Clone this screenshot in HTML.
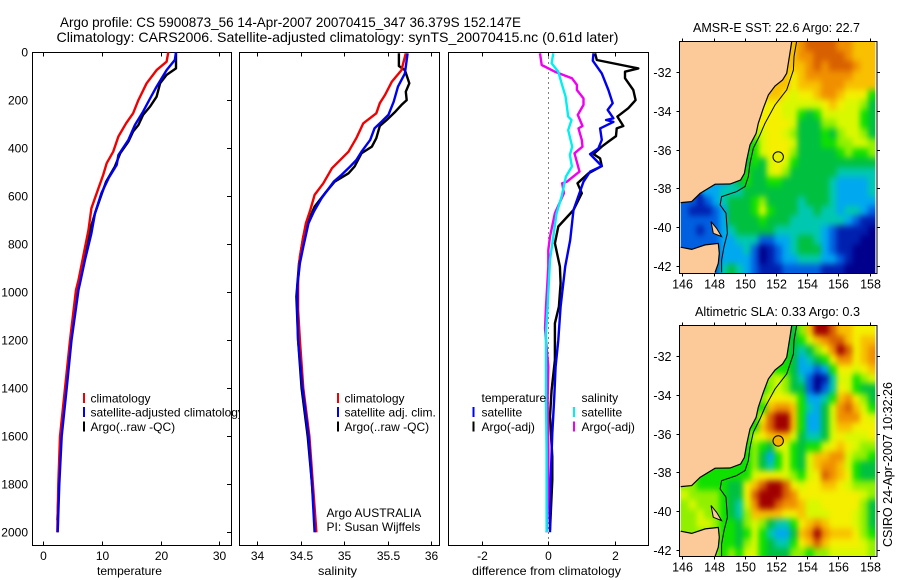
<!DOCTYPE html>
<html lang="en">
<head>
<meta charset="utf-8">
<title>Argo profile CS 5900873_56</title>
<style>
html,body{margin:0;padding:0;background:#fff;}
body{width:900px;height:580px;overflow:hidden;}
svg{display:block;}
text{font-family:"Liberation Sans",sans-serif;font-size:12px;fill:#000;}
</style>
</head>
<body>
<svg id="fig" width="900" height="580" viewBox="0 0 900 580" xmlns="http://www.w3.org/2000/svg">
  <defs>
    <filter id="fieldSmooth" filterUnits="userSpaceOnUse" x="670" y="30" width="220" height="540" color-interpolation-filters="sRGB">
      <feGaussianBlur stdDeviation="2.6 3.2"/>
      <feComponentTransfer><feFuncA type="linear" slope="20"/></feComponentTransfer>
    </filter>
    <clipPath id="clipSst"><rect x="680.7" y="41.5" width="194.6" height="231.5"/></clipPath>
    <clipPath id="clipSla"><rect x="680.7" y="325.5" width="194.6" height="231"/></clipPath>
  </defs>
  <rect x="0" y="0" width="900" height="580" fill="#fff"/>
  <text x="60" y="27" style="font-size:14px" textLength="461" lengthAdjust="spacingAndGlyphs">Argo profile: CS 5900873_56 14-Apr-2007 20070415_347 36.379S 152.147E</text>
  <text x="56.5" y="42" style="font-size:14px" textLength="562" lengthAdjust="spacingAndGlyphs">Climatology: CARS2006. Satellite-adjusted climatology: synTS_20070415.nc (0.61d later)</text>
  <text x="693" y="32" style="font-size:13px" textLength="167" lengthAdjust="spacingAndGlyphs">AMSR-E SST: 22.6 Argo: 22.7</text>
  <text x="695" y="316" style="font-size:13px" textLength="165" lengthAdjust="spacingAndGlyphs">Altimetric SLA: 0.33 Argo: 0.3</text>
  <text transform="translate(892,547) rotate(-90)" style="font-size:13px" textLength="165" lengthAdjust="spacingAndGlyphs">CSIRO 24-Apr-2007 10:32:26</text>
</svg>
<script>
// ---------- profile data ----------
const depthTicks = [0,200,400,600,800,1000,1200,1400,1600,1800,2000];
const tempTicks = [0,10,20,30];
const salTicks = [34,34.5,35,35.5,36];
const diffTicks = [-2,0,2];

const tempClimDepth = [0,39,74,129,199,254,296,351,414,462,511,587,650,740,851,949,990,1200,1400,1600,1800,2000];
const tempClim = [21.3,21.0,19.3,17.6,16.2,15.3,14.1,12.8,11.9,10.8,10.2,9.1,8.2,7.7,6.8,6.0,5.57,4.55,3.7,2.85,2.56,2.39];
const tempAdjDepth = [0,32,74,143,192,247,303,365,428,469,525,587,671,754,865,962,990,1200,1400,1600,1800,2000];
const tempAdj = [22.6,22.4,21,19.3,18.2,17,15.6,14.5,12.8,12.5,11.1,9.9,8.8,8.2,7.1,6.25,6.0,4.8,3.98,3.13,2.73,2.45];
const tempArgoDepth = [0,67,94,129,185,226,261,303,330,372,421,476,539,594,671,754,879,962,1200,1400,1600,1800,1950];
const tempArgo = [22.6,22.6,21,19.9,19.3,18.2,17,16.2,15.3,14.5,13.1,12.2,10.7,9.9,8.8,7.8,6.8,6.1,4.7,3.85,3.05,2.65,2.4];

const salClimDepth = [4,46,74,122,178,212,254,296,358,414,483,546,594,657,712,768,851,949,1074,1200,1400,1600,1800,2000];
const salClim = [35.71,35.68,35.66,35.55,35.47,35.41,35.37,35.22,35.14,35.05,34.86,34.76,34.66,34.61,34.56,34.53,34.49,34.47,34.47,34.49,34.53,34.6,34.64,34.68];
const salAdjDepth = [4,88,143,206,261,289,317,365,414,449,476,511,539,608,664,712,810,879,976,1074,1200,1400,1600,1800,2000];
const salAdj = [35.73,35.7,35.62,35.57,35.51,35.43,35.35,35.3,35.2,35.14,35.07,34.97,34.88,34.74,34.65,34.59,34.53,34.49,34.46,34.46,34.47,34.52,34.59,34.63,34.66];
const salArgoDepth = [4,57,74,129,164,199,219,247,282,307,358,393,421,476,504,539,587,643,685,768,879,1018,1200,1400,1600,1800,1950];
const salArgo = [35.63,35.63,35.7,35.75,35.71,35.72,35.66,35.59,35.49,35.41,35.37,35.32,35.2,35.12,35.05,34.89,34.78,34.66,34.61,34.53,34.48,34.45,34.47,34.51,34.58,34.63,34.66];

const diffTempSatDepth = [4,35,88,157,212,240,275,282,290,317,365,400,424,474,497,539,657,782,893,1060,1199,1310,1435,1588,1671,1865,2000];
const diffTempSat = [1.36,1.34,1.61,1.81,1.94,1.79,1.96,1.74,1.96,1.56,1.61,1.51,1.26,1.61,1.26,1.06,.76,.66,.51,.37,.30,.22,.18,.12,.1,.05,.05];
const diffTempArgoDepth = [4,32,67,81,108,157,199,233,268,307,317,349,372,393,424,442,474,504,546,587,657,726,796,893,962,1060,1129,1282,1407,1518,1685,1782,1990];
const diffTempArgo = [1.41,1.46,2.71,2.31,2.31,2.56,2.63,2.41,2.08,2.26,2.06,2.04,1.81,1.61,1.36,1.56,1.61,1.21,.88,1.01,.76,.30,.20,.35,.37,.32,.2,.2,.1,.05,.12,.12,.05];
const diffSalSatDepth = [4,46,81,129,185,268,282,324,393,428,476,518,601,671,768,865,1060,1171,1449,1657,2000];
const diffSalSat = [.15,.1,.3,.4,.52,.6,.7,.6,.72,.65,.71,.53,.4,.25,.15,.05,-.02,-.07,-.07,-.05,-.05];
const diffSalArgoDepth = [4,53,81,108,136,157,192,219,261,307,317,365,393,421,497,539,546,587,671,768,824,893,1060,1150,1310,1449,1657,1851,2000];
const diffSalArgo = [-.25,-.2,.2,.71,.86,.86,1.06,1.06,.89,1.03,.91,1.01,1.03,.79,.94,.56,.42,.47,.2,.05,0,0,-.07,-.1,0,-.02,0,0,-.05];

// ---------- map data: colour-level index per 0.5 degree cell, -1 = land ----------
const mapLonTicks = [146,148,150,152,154,156,158];
const mapLatTicks = [-32,-34,-36,-38,-40,-42];
const argoLon = 152.147;
const argoLat = -36.379;
const sstGrid = [
[-1,-1,-1,-1,-1,-1,-1,-1,-1,-1,-1,-1,-1,10,10,11,12,12,12,12,11,11,10,10,10],
[-1,-1,-1,-1,-1,-1,-1,-1,-1,-1,-1,-1,-1,10,10,11,11,12,12,12,12,11,10,10,10],
[-1,-1,-1,-1,-1,-1,-1,-1,-1,-1,-1,-1,-1,10,10,10,11,12,11,12,12,12,11,10,10],
[-1,-1,-1,-1,-1,-1,-1,-1,-1,-1,-1,-1,-1,10,9,10,11,11,11,11,11,11,10,10,10],
[-1,-1,-1,-1,-1,-1,-1,-1,-1,-1,-1,-1,10,10,9,10,10,10,11,11,11,10,10,10,10],
[-1,-1,-1,-1,-1,-1,-1,-1,-1,-1,-1,10,10,9,8,9,9,10,11,11,10,9,9,9,6],
[-1,-1,-1,-1,-1,-1,-1,-1,-1,-1,9,9,9,8,8,8,8,8,9,10,9,8,8,7,5],
[-1,-1,-1,-1,-1,-1,-1,-1,-1,-1,9,9,9,8,8,6,5,6,8,8,8,8,8,6,5],
[-1,-1,-1,-1,-1,-1,-1,-1,-1,-1,9,9,9,9,8,5,5,5,7,7,8,8,8,6,5],
[-1,-1,-1,-1,-1,-1,-1,-1,-1,7,8,9,9,8,7,5,5,5,6,5,7,8,8,7,5],
[-1,-1,-1,-1,-1,-1,-1,-1,-1,6,8,9,9,9,8,5,5,5,6,6,7,7,8,8,7],
[-1,-1,-1,-1,-1,-1,-1,-1,6,6,8,9,9,9,7,5,5,5,5,5,6,7,6,6,7],
[-1,-1,-1,-1,-1,-1,-1,-1,5,6,5,8,9,8,6,5,5,5,5,5,5,5,5,5,5],
[-1,-1,-1,-1,-1,-1,-1,-1,6,5,5,8,9,7,5,5,5,5,5,5,4,4,4,4,4],
[-1,-1,-1,-1,3,3,4,5,6,5,5,6,6,5,5,5,5,5,5,4,3,3,3,3,4],
[-1,-1,-1,3,3,4,4,4,5,5,5,5,5,5,5,5,5,5,5,4,3,3,3,3,4],
[2,2,1,2,3,4,5,5,5,6,7,5,5,5,5,4,5,5,5,4,3,3,3,3,3],
[2,1,1,1,2,3,5,5,5,6,8,6,5,5,5,4,4,5,4,4,3,4,4,3,2],
[2,2,2,2,2,3,5,5,5,5,6,5,5,5,4,4,4,4,4,4,4,3,2,1,1],
[2,2,1,2,2,3,4,5,5,5,5,5,4,4,4,4,4,4,3,2,1,1,1,1,0],
[2,2,2,2,2,3,3,4,4,4,2,2,3,3,4,5,5,4,3,2,1,1,1,0,0],
[2,2,2,2,2,3,3,3,4,2,0,1,2,3,4,5,5,5,3,2,1,1,0,0,0],
[-1,-1,-1,-1,2,3,3,3,3,2,0,1,2,3,3,4,4,4,3,3,2,1,0,0,0],
[-1,-1,-1,-1,2,4,5,4,3,2,1,1,1,2,2,2,2,2,1,1,1,0,0,0,0]
];
const slaGrid = [
[-1,-1,-1,-1,-1,-1,-1,-1,-1,-1,-1,-1,-1,6,5,7,10,13,13,12,10,10,9,9,9],
[-1,-1,-1,-1,-1,-1,-1,-1,-1,-1,-1,-1,-1,6,5,6,8,10,11,12,12,10,9,10,10],
[-1,-1,-1,-1,-1,-1,-1,-1,-1,-1,-1,-1,-1,6,5,4,5,7,9,11,13,12,9,10,11],
[-1,-1,-1,-1,-1,-1,-1,-1,-1,-1,-1,-1,-1,6,5,3,4,5,6,9,11,11,9,10,11],
[-1,-1,-1,-1,-1,-1,-1,-1,-1,-1,-1,-1,6,6,5,3,3,2,3,6,9,9,8,9,10],
[-1,-1,-1,-1,-1,-1,-1,-1,-1,-1,-1,7,8,7,5,4,2,0,1,4,8,8,6,7,8],
[-1,-1,-1,-1,-1,-1,-1,-1,-1,-1,6,7,8,7,5,5,2,0,2,4,9,8,6,5,5],
[-1,-1,-1,-1,-1,-1,-1,-1,-1,-1,7,9,9,9,8,6,3,3,4,6,10,11,9,7,5],
[-1,-1,-1,-1,-1,-1,-1,-1,-1,-1,6,10,11,11,10,6,4,3,5,8,11,12,10,8,6],
[-1,-1,-1,-1,-1,-1,-1,-1,-1,6,9,12,13,13,10,6,3,3,5,8,11,11,11,9,8],
[-1,-1,-1,-1,-1,-1,-1,-1,-1,6,10,12,13,13,10,6,3,3,5,8,10,10,9,9,9],
[-1,-1,-1,-1,-1,-1,-1,-1,6,8,9,10,10,10,8,5,4,4,5,8,9,8,8,8,9],
[-1,-1,-1,-1,-1,-1,-1,-1,6,7,6,5,9,8,6,5,6,6,8,9,10,9,8,7,7],
[-1,-1,-1,-1,-1,-1,-1,-1,6,7,5,3,6,8,6,5,8,10,10,11,11,8,7,7,6],
[-1,-1,-1,-1,6,6,6,6,6,7,5,4,6,8,6,5,8,10,11,11,10,8,6,5,5],
[-1,-1,-1,6,6,6,6,6,6,8,9,9,9,8,7,6,8,9,12,11,10,9,6,5,5],
[7,7,6,6,6,6,5,5,9,10,12,13,13,12,9,8,9,9,10,10,9,8,7,7,7],
[8,7,7,7,7,6,5,5,9,12,13,13,13,12,11,9,9,9,9,9,9,9,9,8,7],
[7,8,7,7,7,6,5,4,8,11,13,13,12,11,11,10,8,8,9,9,9,9,9,7,5],
[7,7,8,7,7,6,5,4,7,10,10,10,10,9,9,10,8,8,8,9,9,9,8,7,5],
[7,7,8,8,7,6,6,5,7,8,7,5,4,4,6,9,10,11,10,9,9,9,8,7,5],
[7,7,7,7,7,6,6,5,6,8,6,4,3,3,5,10,11,13,11,10,10,10,9,7,6],
[-1,-1,-1,-1,7,6,6,5,7,8,6,5,4,4,6,9,10,12,10,9,9,9,9,8,7],
[-1,-1,-1,-1,7,6,7,6,8,8,6,5,5,5,7,7,6,7,7,8,8,8,8,8,7]
];
const coastLon = [153.01,152.90,152.69,152.43,151.94,151.52,151.19,150.87,150.73,150.34,150.13,149.98,149.74,149.06,148.10,147.14,146.60,145.90];
const coastLat = [-30.41,-31.02,-32.05,-32.40,-32.71,-33.17,-33.86,-34.64,-35.16,-35.76,-36.54,-37.23,-37.57,-37.78,-37.79,-38.26,-38.69,-38.74];
const tasLon = [145.90,146.60,147.46,148.31,148.37,148.31,148.10];
const tasLat = [-41.05,-41.16,-40.93,-40.85,-41.36,-41.88,-42.35];
const flindersLon = [147.84,148.20,148.52,147.99];
const flindersLat = [-39.72,-40.07,-40.50,-40.33];
const isoLon = [153.33,153.16,153.12,152.69,151.94,151.30,150.98,150.55,150.34,150.23,150.02,149.49,148.52,148.42,148.80,148.89,148.67,148.52,148.52];
const isoLat = [-30.41,-31.19,-31.88,-32.91,-33.69,-34.64,-35.24,-35.93,-36.71,-37.40,-37.91,-38.17,-38.43,-38.86,-39.29,-40.33,-41.02,-41.71,-42.35];

// ---------- styling and scales ----------
const levelColors = ['#00008c','#0020b0','#0060e0','#00a8f0','#00c8b0','#00c040','#10e000','#90f000','#d8f800','#f4f000','#f8c000','#f09000','#d86000','#a00000'];
const landColor = '#fcc998';
const fig = document.getElementById('fig');
const NS = 'http://www.w3.org/2000/svg';
function mk(tag, parent, attrs, txt){
  const el = document.createElementNS(NS, tag);
  for (const k in attrs) el.setAttribute(k, attrs[k]);
  if (txt !== undefined) el.textContent = txt;
  parent.appendChild(el);
  return el;
}
const yDepth = d => 52.3 + d * 0.24;
const xTemp = v => 43.3 + v * 5.87;
const xSal = v => 257.3 + (v - 34) * 86.85;
const xDiff = v => 548.3 + v * 33.2;

function drawPanel(name, left, right, xScale, ticks, xLabel, labelX, labelLen){
  const top = 52.5, bottom = 545.5;
  const g = mk('g', fig, {});
  
  
  const bg = mk('rect', g, {x:left, y:top, width:right-left, height:bottom-top, fill:'#fff', stroke:'#000', 'stroke-width':1, 'shape-rendering':'crispEdges'});
  
  
  ticks.forEach(v => {
    const x = Math.round(xScale(v)) + .5;
    const t1 = mk('line', g, {x1:x, x2:x, y1:top, y2:top+4, stroke:'#000', 'shape-rendering':'crispEdges'});
    
    
    const t2 = mk('line', g, {x1:x, x2:x, y1:bottom-4, y2:bottom, stroke:'#000', 'shape-rendering':'crispEdges'});
    
    
    const lb = mk('text', g, {x:x, y:560, 'text-anchor':'middle'}, String(v));
    
    
  });
  const xl = mk('text', g, {x:labelX, y:575, textLength:labelLen, lengthAdjust:'spacingAndGlyphs'}, xLabel);
  
  
  return g;
}
function drawLine(g, name, xs, ds, xScale, color){
  const pts = xs.map((v,i) => xScale(v).toFixed(1) + ',' + yDepth(ds[i]).toFixed(1)).join(' ');
  const l = mk('polyline', g, {points:pts, fill:'none', stroke:color, 'stroke-width':2.4, 'stroke-linejoin':'round'});
  
  
}
function drawLegend(g, prefix, x, color, y, label, textX){
  if (color) {
    const m = mk('line', g, {x1:x, x2:x, y1:y-10, y2:y, stroke:color, 'stroke-width':2, 'shape-rendering':'crispEdges'});
    
    
  }
  const t = mk('text', g, {x:textX, y:y-.5}, label);
  
  
}

// temperature panel
const pT = drawPanel('temperature', 32.5, 231.5, xTemp, tempTicks, 'temperature', 97, 65);
depthTicks.forEach(d => {
  const y = Math.round(yDepth(d)) + .5;
  const t = mk('line', pT, {x1:227, x2:231.5, y1:y, y2:y, stroke:'#000', 'shape-rendering':'crispEdges'});
  
  
  const lb = mk('text', pT, {x:28, y:y+4, 'text-anchor':'end'}, String(d));
  
  
});
drawLine(pT, 'temperature-argo-line', tempArgo, tempArgoDepth, xTemp, '#000');
drawLine(pT, 'temperature-climatology-line', tempClim, tempClimDepth, xTemp, '#f00000');
drawLine(pT, 'temperature-adjusted-line', tempAdj, tempAdjDepth, xTemp, '#0000f0');
drawLegend(pT, 'temperature-climatology', 84, '#f00000', 403, 'climatology', 90.5);
drawLegend(pT, 'temperature-adjusted', 84, '#0000f0', 417, 'satellite-adjusted climatology', 90.5);
drawLegend(pT, 'temperature-argo', 84, '#000', 431.5, 'Argo(..raw -QC)', 90.5);

// salinity panel (its white plot area clips the overflowing legend text)
const pS = drawPanel('salinity', 239.5, 439.5, xSal, salTicks, 'salinity', 318, 39);
drawLine(pS, 'salinity-argo-line', salArgo, salArgoDepth, xSal, '#000');
drawLine(pS, 'salinity-climatology-line', salClim, salClimDepth, xSal, '#f00000');
drawLine(pS, 'salinity-adjusted-line', salAdj, salAdjDepth, xSal, '#0000f0');
drawLegend(pS, 'salinity-climatology', 338, '#f00000', 403, 'climatology', 344.5);
drawLegend(pS, 'salinity-adjusted', 338, '#0000f0', 417, 'satellite adj. clim.', 344.5);
drawLegend(pS, 'salinity-argo', 338, '#000', 431.5, 'Argo(..raw -QC)', 344.5);
const note1 = mk('text', pS, {x:326.5, y:517}, 'Argo AUSTRALIA');


const note2 = mk('text', pS, {x:326.5, y:531}, 'PI: Susan Wijffels');



// difference panel
const pD = drawPanel('difference', 448.5, 648.5, xDiff, diffTicks, 'difference from climatology', 472, 149);
const zero = mk('line', pD, {x1:xDiff(0), x2:xDiff(0), y1:52.5, y2:545.5, stroke:'#000', 'stroke-width':1, 'stroke-dasharray':'1 4', 'shape-rendering':'crispEdges'});


drawLine(pD, 'difference-temperature-argo-line', diffTempArgo, diffTempArgoDepth, xDiff, '#000');
drawLine(pD, 'difference-temperature-satellite-line', diffTempSat, diffTempSatDepth, xDiff, '#0000f0');
drawLine(pD, 'difference-salinity-argo-line', diffSalArgo, diffSalArgoDepth, xDiff, '#f000f0');
drawLine(pD, 'difference-salinity-satellite-line', diffSalSat, diffSalSatDepth, xDiff, '#00f0f0');
drawLegend(pD, 'difference-temperature-heading', 0, null, 402.5, 'temperature', 481.5);
drawLegend(pD, 'difference-temperature-satellite', 473.7, '#0000f0', 417, 'satellite', 481.5);
drawLegend(pD, 'difference-temperature-argo', 473.7, '#000', 431.5, 'Argo(-adj)', 481.5);
drawLegend(pD, 'difference-salinity-heading', 0, null, 402.5, 'salinity', 581.5);
drawLegend(pD, 'difference-salinity-satellite', 574, '#00f0f0', 417, 'satellite', 581.5);
drawLegend(pD, 'difference-salinity-argo', 574, '#f000f0', 431.5, 'Argo(-adj)', 581.5);

// maps
function drawMap(name, grid, yOrigin, top, bottom, circleColor, clipId){
  const mx = lon => 682.3 + (lon - 146) * 15.6;
  const my = lat => yOrigin + (-32 - lat) * 19.33;
  const left = 679.5, right = 877;
  const g = mk('g', fig, {});
  
  
  const bg = mk('rect', g, {x:left, y:top, width:right-left, height:bottom-top, fill:'#fff'});
  
  
  const clipWrap = mk('g', g, {'clip-path':'url(#' + clipId + ')'});
  
  
  const field = mk('g', clipWrap, {filter:'url(#fieldSmooth)'});
  
  
  grid.forEach((row, r) => row.forEach((v, c) => {
    if (v < 0) return;
    const x0 = mx(145.9 + c * 0.5), x1 = mx(145.9 + (c + 1) * 0.5);
    const y0 = my(-30.42 - r * 0.5), y1 = my(-30.42 - (r + 1) * 0.5);
    const cell = mk('rect', field, {x:x0.toFixed(1), y:y0.toFixed(1), width:(x1-x0+.4).toFixed(1), height:(y1-y0+.4).toFixed(1), fill:levelColors[v], 'shape-rendering':'crispEdges'});
    
    
  }));
  const toPts = (lons, lats) => lons.map((lo,i) => mx(lo).toFixed(1) + ',' + my(lats[i]).toFixed(1)).join(' ');
  const main = mk('polygon', g, {points: left + ',' + top + ' ' + toPts(coastLon, coastLat) + ' ' + left + ',' + my(-38.74).toFixed(1), fill:landColor});
  
  
  const tas = mk('polygon', g, {points: left + ',' + my(-41.05).toFixed(1) + ' ' + toPts(tasLon, tasLat) + ' ' + mx(148.05).toFixed(1) + ',' + bottom + ' ' + left + ',' + bottom, fill:landColor});
  
  
  const fl = mk('polygon', g, {points: toPts(flindersLon, flindersLat), fill:landColor, stroke:'#000', 'stroke-width':1});
  
  
  const cst = mk('polyline', g, {points: toPts(coastLon, coastLat), fill:'none', stroke:'#000', 'stroke-width':1.2});
  
  
  const tc = mk('polyline', g, {points: toPts(tasLon, tasLat), fill:'none', stroke:'#000', 'stroke-width':1.2});
  
  
  const iso = mk('polyline', g, {points: toPts(isoLon, isoLat), fill:'none', stroke:'#000', 'stroke-width':1});
  
  
  const frame = mk('rect', g, {x:left, y:top, width:right-left, height:bottom-top, fill:'none', stroke:'#000', 'shape-rendering':'crispEdges'});
  
  
  mapLonTicks.forEach(lo => {
    const x = Math.round(mx(lo)) + .5;
    const a = mk('line', g, {x1:x, x2:x, y1:top-3, y2:top, stroke:'#000', 'shape-rendering':'crispEdges'});
    
    
    const b = mk('line', g, {x1:x, x2:x, y1:bottom, y2:bottom+3, stroke:'#000', 'shape-rendering':'crispEdges'});
    
    
    const lb = mk('text', g, {x:x, y:bottom+15, 'text-anchor':'middle', style:'font-size:12.5px'}, String(lo));
    
    
  });
  mapLatTicks.forEach(la => {
    const y = Math.round(my(la)) + .5;
    const a = mk('line', g, {x1:left-3, x2:left, y1:y, y2:y, stroke:'#000', 'shape-rendering':'crispEdges'});
    
    
    const b = mk('line', g, {x1:right, x2:right+3, y1:y, y2:y, stroke:'#000', 'shape-rendering':'crispEdges'});
    
    
    const lb = mk('text', g, {x:left-8, y:y+4.5, 'text-anchor':'end', style:'font-size:12.5px'}, String(la));
    
    
  });
  const dot = mk('circle', g, {cx:mx(argoLon).toFixed(1), cy:my(argoLat).toFixed(1), r:5.2, fill:circleColor, stroke:'#000', 'stroke-width':1});
  
  
}
drawMap('sst', sstGrid, 72.3, 41.5, 273.5, '#e8f000', 'clipSst');
drawMap('sla', slaGrid, 356.3, 325.5, 556.5, '#f8b000', 'clipSla');
</script>
</body>
</html>
